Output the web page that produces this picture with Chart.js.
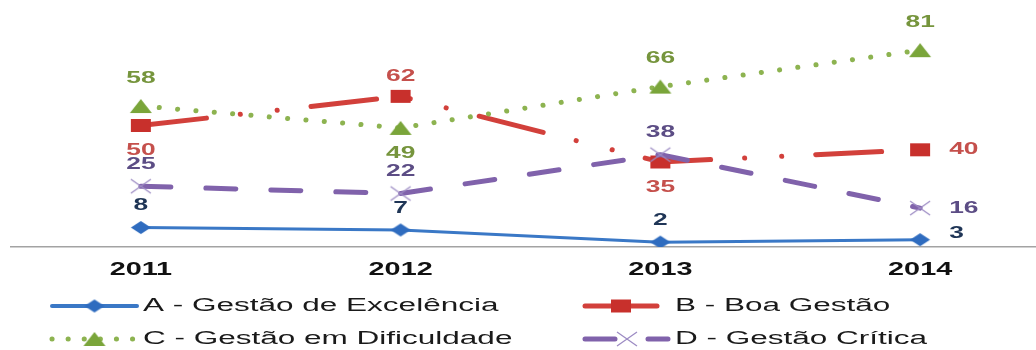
<!DOCTYPE html>
<html lang="pt">
<head>
<meta charset="UTF-8">
<title>Gestão 2011-2014</title>
<script src="https://cdn.jsdelivr.net/npm/chart.js@4.4.1/dist/chart.umd.min.js"></script>
<style>
  html, body { margin: 0; padding: 0; background: #fff; overflow: hidden; width: 1036px; height: 350px; }
  #wrap { position: relative; width: 1036px; height: 350px; overflow: hidden; }
  #chart { position: absolute; left: 0; top: 0; }
</style>
</head>
<body>
<div id="wrap"><canvas id="chart" width="1050" height="350"></canvas></div>
<script>
// dados
const years = ['2011', '2012', '2013', '2014'];
const serieA = [8, 7, 2, 3];
const serieB = [50, 62, 35, 40];
const serieC = [58, 49, 66, 81];
const serieD = [25, 22, 38, 16];
const seriesNames = [
  'A - Gestão de Excelência',
  'B - Boa Gestão',
  'C - Gestão em Dificuldade',
  'D - Gestão Crítica'
];

// the original picture is stretched horizontally
const FONT = '"Liberation Sans", Arial, sans-serif';

function makeMarker(kind, color, w, h) {
  const c = document.createElement('canvas');
  c.width = w + 4;
  c.height = h + 4;
  const g = c.getContext('2d');
  g.translate(2, 2);
  g.fillStyle = color;
  g.strokeStyle = color;
  g.beginPath();
  if (kind === 'diamond') {
    g.moveTo(w / 2, 0); g.lineTo(w, h / 2); g.lineTo(w / 2, h); g.lineTo(0, h / 2);
    g.closePath(); g.fill();
  } else if (kind === 'square') {
    g.rect(0, 0, w, h); g.fill();
  } else if (kind === 'triangle') {
    g.moveTo(w / 2, 0); g.lineTo(w, h); g.lineTo(0, h);
    g.closePath(); g.fill();
  } else {
    g.lineWidth = 1.3;
    g.moveTo(0, 0); g.lineTo(w, h);
    g.moveTo(w, 0); g.lineTo(0, h);
    g.stroke();
  }
  return c;
}

const markA = makeMarker('diamond', '#2f6cbf', 20, 13);
const markB = makeMarker('square', '#c8302c', 20, 13);
const markC = makeMarker('triangle', '#7aa53a', 22, 14);
const markD = makeMarker('x', '#9d8cc4', 20, 14);

function stretchText(ctx, text, x, y, align, sx) {
  ctx.save();
  ctx.translate(x, y);
  ctx.scale(sx, 1);
  ctx.textAlign = align;
  ctx.textBaseline = 'middle';
  ctx.fillText(text, 0, 0);
  ctx.restore();
}

// rótulos de valor
const valueLabels = {
  id: 'valueLabels',
  afterDatasetsDraw(chart) {
    const ctx = chart.ctx;
    ctx.save();
    ctx.font = 'bold 17px ' + FONT;
    chart.data.datasets.forEach((ds, i) => {
      const meta = chart.getDatasetMeta(i);
      ctx.fillStyle = ds.labelColor;
      meta.data.forEach((pt, j) => {
        const place = ds.labelPlace[j];
        const txt = String(ds.data[j]);
        if (place === 'top') stretchText(ctx, txt, pt.x, pt.y - ds.labelUp, 'center', 1.55);
        else if (place === 'bottom') stretchText(ctx, txt, pt.x, pt.y + 25, 'center', 1.55);
        else stretchText(ctx, txt, pt.x + 29, pt.y - ds.labelRightUp, 'left', 1.55);
      });
    });
    ctx.restore();
  }
};

// ticks do eixo x e legenda
const axisAndLegend = {
  id: 'axisAndLegend',
  afterDraw(chart) {
    const ctx = chart.ctx;
    const xs = chart.scales.x;
    ctx.save();
    ctx.fillStyle = '#111';
    ctx.font = 'bold 18px ' + FONT;
    years.forEach((y, i) => {
      stretchText(ctx, y, xs.getPixelForTick(i), 270, 'center', 1.6);
    });

    const slots = [
      { x0: 52, x1: 137, tx: 143, y: 306 },
      { x0: 585, x1: 657, tx: 675, y: 306 },
      { x0: 52, x1: 137, tx: 143, y: 339 },
      { x0: 585, x1: 668, tx: 675, y: 339 }
    ];
    chart.data.datasets.forEach((ds, i) => {
      const s = slots[i];
      ctx.save();
      ctx.strokeStyle = ds.borderColor;
      ctx.lineWidth = ds.legendWidth;
      ctx.lineCap = 'round';
      ctx.setLineDash(ds.legendDash);
      ctx.beginPath();
      ctx.moveTo(s.x0, s.y);
      ctx.lineTo(s.x1, s.y);
      ctx.stroke();
      ctx.restore();
      const m = ds.pointStyle;
      const mx = ds.legendMarkX !== undefined ? s.x0 + ds.legendMarkX : (s.x0 + s.x1) / 2;
      ctx.drawImage(m, mx - m.width / 2, s.y - m.height / 2);
      ctx.fillStyle = '#1a1a1a';
      ctx.font = '18px ' + FONT;
      stretchText(ctx, seriesNames[i], s.tx, s.y, 'left', 1.75);
    });
    ctx.restore();
  }
};

Chart.defaults.font.family = FONT;

new Chart(document.getElementById('chart'), {
  type: 'line',
  data: {
    labels: years,
    datasets: [
      {
        label: seriesNames[0], data: serieA,
        borderColor: '#3a78c6', borderWidth: 3,
        pointStyle: markA, pointRadius: 8,
        order: 3,
        labelColor: '#1f3556', labelPlace: ['top', 'top', 'top', 'right'], labelUp: 22, labelRightUp: 6,
        legendWidth: 4, legendDash: []
      },
      {
        label: seriesNames[1], data: serieB,
        borderColor: '#d2403b', borderWidth: 5,
        borderDash: [66, 34, 0.1, 37, 0.1, 34],
        pointStyle: markB, pointRadius: 8,
        order: 2,
        labelColor: '#c5504c', labelPlace: ['bottom', 'top', 'bottom', 'right'], labelUp: 20, labelRightUp: 0,
        legendWidth: 5, legendDash: []
      },
      {
        label: seriesNames[2], data: serieC,
        borderColor: '#8db350', borderWidth: 5,
        borderDash: [0.1, 18.3],
        pointStyle: markC, pointRadius: 8,
        order: 1,
        labelColor: '#76953d', labelPlace: ['top', 'bottom', 'top', 'top'], labelUp: 28, labelRightUp: 0,
        legendWidth: 5, legendDash: [0.1, 16]
      },
      {
        label: seriesNames[3], data: serieD,
        borderColor: '#8062ab', borderWidth: 5,
        borderDash: [30, 35],
        pointStyle: markD, pointRadius: 8,
        order: 0,
        labelColor: '#5c4d85', labelPlace: ['top', 'top', 'top', 'right'], labelUp: 22, labelRightUp: 0,
        legendWidth: 5, legendDash: [30, 33], legendMarkX: 42
      }
    ]
  },
  options: {
    responsive: false,
    devicePixelRatio: 1,
    animation: false,
    events: [],
    layout: { autoPadding: false, padding: { top: 4, bottom: 95, left: 11, right: 0 } },
    elements: {
      line: { tension: 0, borderCapStyle: 'round', borderJoinStyle: 'round' }
    },
    scales: {
      x: {
        offset: true,
        grid: { display: false },
        border: { display: true, color: '#a3a3a3', width: 1.5 },
        ticks: { display: false }
      },
      y: { display: false, min: 0, max: 100 }
    },
    plugins: {
      legend: { display: false },
      tooltip: { enabled: false }
    }
  },
  plugins: [valueLabels, axisAndLegend]
});
</script>
</body>
</html>
